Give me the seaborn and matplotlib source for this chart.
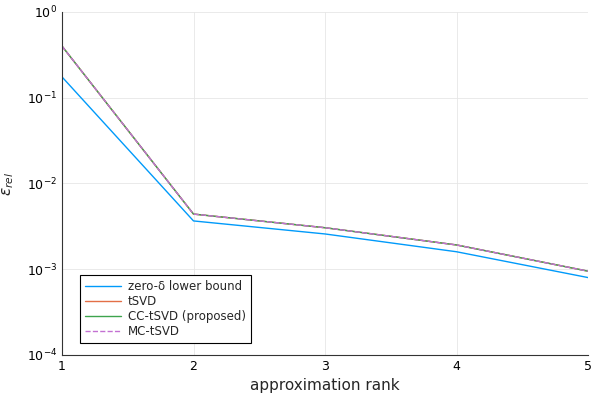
import numpy as np
import pandas as pd
import seaborn as sns
from matplotlib import pyplot as plt

ranks = [1, 2, 3, 4, 5]
lower_bound = [0.175, 0.00366, 0.00258, 0.00160, 0.00080]
tsvd = [0.40, 0.0044, 0.00305, 0.00192, 0.00095]
cc_tsvd = [0.40, 0.0044, 0.00305, 0.00192, 0.00095]
mc_tsvd = [0.40, 0.0044, 0.00305, 0.00192, 0.00095]

names = ["zero-δ lower bound", "tSVD", "CC-tSVD (proposed)", "MC-tSVD"]
colors = ["#009AFA", "#E36F47", "#3EA44E", "#C371D2"]

df = pd.DataFrame({
    "rank": ranks * 4,
    "err": lower_bound + tsvd + cc_tsvd + mc_tsvd,
    "method": sum([[n] * 5 for n in names], []),
})

sns.set_style("white")
fig = plt.figure(figsize=(6, 4), dpi=100)
ax = fig.add_axes([62/600, 45/400, 526/600, 343/400])

for i, n in enumerate(names):
    sns.lineplot(data=df[df["method"] == n], x="rank", y="err", ax=ax,
                 color=colors[i], label=n, lw=1.0,
                 linestyle="--" if n == "MC-tSVD" else "-")

ax.set_yscale("log")
ax.set_ylim(1e-4, 1)
ax.set_xlim(1, 5)
ax.set_xticks(ranks)
ax.set_yticks([1e-4, 1e-3, 1e-2, 1e-1, 1])
ax.minorticks_off()
ax.grid(True, color="#e6e6e6", lw=0.6)
for s in ["top", "right"]:
    ax.spines[s].set_visible(False)
for s in ["left", "bottom"]:
    ax.spines[s].set_color("#333333")
ax.tick_params(axis="both", direction="in", length=4, labelsize=9,
               color="#333333", labelcolor="black")
ax.set_xlabel("approximation rank", fontsize=11)
ax.set_ylabel(r"$\varepsilon_{rel}$", fontsize=11, labelpad=8)

leg = ax.legend(loc="lower left", bbox_to_anchor=(0.034, 0.035), fontsize=8.5,
                frameon=True, fancybox=False, framealpha=1, borderaxespad=0,
                handlelength=3.0, handletextpad=0.6, labelspacing=0.15,
                borderpad=0.45)
leg.get_frame().set_edgecolor("black")
leg.get_frame().set_linewidth(0.8)

plt.savefig("out.png")
